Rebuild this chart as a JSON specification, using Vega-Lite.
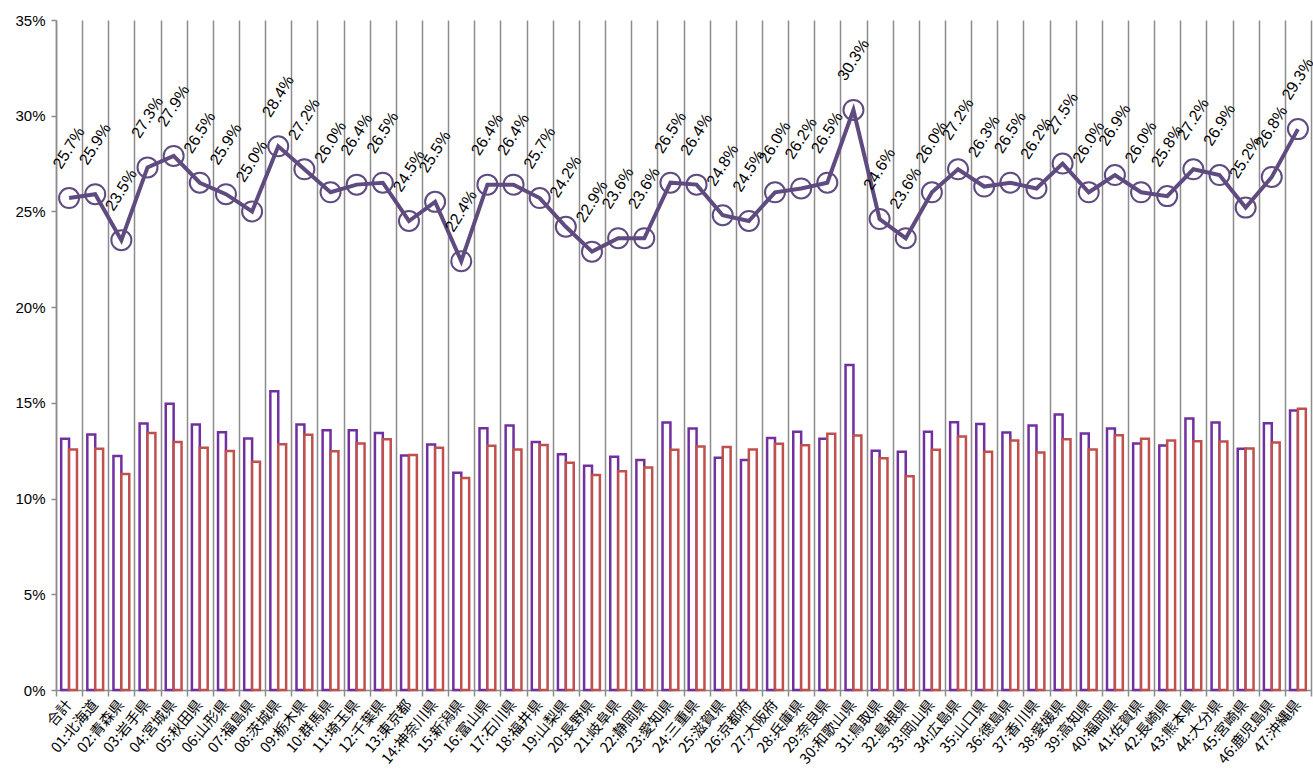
{
  "$schema": "https://vega.github.io/schema/vega-lite/v6.json",
  "autosize": {"type": "none"},
  "width": 1255,
  "height": 670,
  "padding": {"left": 56, "top": 20, "right": 2, "bottom": 88},
  "background": "white",
  "config": {"view": {"stroke": null}},
  "datasets": {
    "bars": [
      {"cat": "合計", "s": "a", "v": 0.1312}, {"cat": "合計", "s": "b", "v": 0.1256},
      {"cat": "01:北海道", "s": "a", "v": 0.1335}, {"cat": "01:北海道", "s": "b", "v": 0.1260},
      {"cat": "02:青森県", "s": "a", "v": 0.1222}, {"cat": "02:青森県", "s": "b", "v": 0.1128},
      {"cat": "03:岩手県", "s": "a", "v": 0.1392}, {"cat": "03:岩手県", "s": "b", "v": 0.1342},
      {"cat": "04:宮城県", "s": "a", "v": 0.1495}, {"cat": "04:宮城県", "s": "b", "v": 0.1295},
      {"cat": "05:秋田県", "s": "a", "v": 0.1387}, {"cat": "05:秋田県", "s": "b", "v": 0.1265},
      {"cat": "06:山形県", "s": "a", "v": 0.1347}, {"cat": "06:山形県", "s": "b", "v": 0.1248},
      {"cat": "07:福島県", "s": "a", "v": 0.1314}, {"cat": "07:福島県", "s": "b", "v": 0.1192},
      {"cat": "08:茨城県", "s": "a", "v": 0.1560}, {"cat": "08:茨城県", "s": "b", "v": 0.1284},
      {"cat": "09:栃木県", "s": "a", "v": 0.1387}, {"cat": "09:栃木県", "s": "b", "v": 0.1333},
      {"cat": "10:群馬県", "s": "a", "v": 0.1357}, {"cat": "10:群馬県", "s": "b", "v": 0.1247},
      {"cat": "11:埼玉県", "s": "a", "v": 0.1357}, {"cat": "11:埼玉県", "s": "b", "v": 0.1288},
      {"cat": "12:千葉県", "s": "a", "v": 0.1342}, {"cat": "12:千葉県", "s": "b", "v": 0.1310},
      {"cat": "13:東京都", "s": "a", "v": 0.1225}, {"cat": "13:東京都", "s": "b", "v": 0.1227},
      {"cat": "14:神奈川県", "s": "a", "v": 0.1283}, {"cat": "14:神奈川県", "s": "b", "v": 0.1265},
      {"cat": "15:新潟県", "s": "a", "v": 0.1135}, {"cat": "15:新潟県", "s": "b", "v": 0.1107},
      {"cat": "16:富山県", "s": "a", "v": 0.1368}, {"cat": "16:富山県", "s": "b", "v": 0.1276},
      {"cat": "17:石川県", "s": "a", "v": 0.1382}, {"cat": "17:石川県", "s": "b", "v": 0.1256},
      {"cat": "18:福井県", "s": "a", "v": 0.1295}, {"cat": "18:福井県", "s": "b", "v": 0.1280},
      {"cat": "19:山梨県", "s": "a", "v": 0.1232}, {"cat": "19:山梨県", "s": "b", "v": 0.1187},
      {"cat": "20:長野県", "s": "a", "v": 0.1171}, {"cat": "20:長野県", "s": "b", "v": 0.1123},
      {"cat": "21:岐阜県", "s": "a", "v": 0.1218}, {"cat": "21:岐阜県", "s": "b", "v": 0.1143},
      {"cat": "22:静岡県", "s": "a", "v": 0.1202}, {"cat": "22:静岡県", "s": "b", "v": 0.1162},
      {"cat": "23:愛知県", "s": "a", "v": 0.1397}, {"cat": "23:愛知県", "s": "b", "v": 0.1255},
      {"cat": "24:三重県", "s": "a", "v": 0.1366}, {"cat": "24:三重県", "s": "b", "v": 0.1272},
      {"cat": "25:滋賀県", "s": "a", "v": 0.1213}, {"cat": "25:滋賀県", "s": "b", "v": 0.1269},
      {"cat": "26:京都府", "s": "a", "v": 0.1201}, {"cat": "26:京都府", "s": "b", "v": 0.1256},
      {"cat": "27:大阪府", "s": "a", "v": 0.1316}, {"cat": "27:大阪府", "s": "b", "v": 0.1286},
      {"cat": "28:兵庫県", "s": "a", "v": 0.1349}, {"cat": "28:兵庫県", "s": "b", "v": 0.1279},
      {"cat": "29:奈良県", "s": "a", "v": 0.1312}, {"cat": "29:奈良県", "s": "b", "v": 0.1338},
      {"cat": "30:和歌山県", "s": "a", "v": 0.1698}, {"cat": "30:和歌山県", "s": "b", "v": 0.1330},
      {"cat": "31:鳥取県", "s": "a", "v": 0.1250}, {"cat": "31:鳥取県", "s": "b", "v": 0.1210},
      {"cat": "32:島根県", "s": "a", "v": 0.1244}, {"cat": "32:島根県", "s": "b", "v": 0.1116},
      {"cat": "33:岡山県", "s": "a", "v": 0.1349}, {"cat": "33:岡山県", "s": "b", "v": 0.1255},
      {"cat": "34:広島県", "s": "a", "v": 0.1399}, {"cat": "34:広島県", "s": "b", "v": 0.1324},
      {"cat": "35:山口県", "s": "a", "v": 0.1390}, {"cat": "35:山口県", "s": "b", "v": 0.1244},
      {"cat": "36:徳島県", "s": "a", "v": 0.1345}, {"cat": "36:徳島県", "s": "b", "v": 0.1303},
      {"cat": "37:香川県", "s": "a", "v": 0.1382}, {"cat": "37:香川県", "s": "b", "v": 0.1241},
      {"cat": "38:愛媛県", "s": "a", "v": 0.1439}, {"cat": "38:愛媛県", "s": "b", "v": 0.1310},
      {"cat": "39:高知県", "s": "a", "v": 0.1340}, {"cat": "39:高知県", "s": "b", "v": 0.1256},
      {"cat": "40:福岡県", "s": "a", "v": 0.1366}, {"cat": "40:福岡県", "s": "b", "v": 0.1331},
      {"cat": "41:佐賀県", "s": "a", "v": 0.1288}, {"cat": "41:佐賀県", "s": "b", "v": 0.1312},
      {"cat": "42:長崎県", "s": "a", "v": 0.1277}, {"cat": "42:長崎県", "s": "b", "v": 0.1303},
      {"cat": "43:熊本県", "s": "a", "v": 0.1418}, {"cat": "43:熊本県", "s": "b", "v": 0.1300},
      {"cat": "44:大分県", "s": "a", "v": 0.1397}, {"cat": "44:大分県", "s": "b", "v": 0.1298},
      {"cat": "45:宮崎県", "s": "a", "v": 0.1260}, {"cat": "45:宮崎県", "s": "b", "v": 0.1262},
      {"cat": "46:鹿児島県", "s": "a", "v": 0.1394}, {"cat": "46:鹿児島県", "s": "b", "v": 0.1293},
      {"cat": "47:沖縄県", "s": "a", "v": 0.1460}, {"cat": "47:沖縄県", "s": "b", "v": 0.1469}
    ],
    "line": [
      {"cat": "合計", "t": 0.257}, {"cat": "01:北海道", "t": 0.259}, {"cat": "02:青森県", "t": 0.235},
      {"cat": "03:岩手県", "t": 0.273}, {"cat": "04:宮城県", "t": 0.279}, {"cat": "05:秋田県", "t": 0.265},
      {"cat": "06:山形県", "t": 0.259}, {"cat": "07:福島県", "t": 0.250}, {"cat": "08:茨城県", "t": 0.284},
      {"cat": "09:栃木県", "t": 0.272}, {"cat": "10:群馬県", "t": 0.260}, {"cat": "11:埼玉県", "t": 0.264},
      {"cat": "12:千葉県", "t": 0.265}, {"cat": "13:東京都", "t": 0.245}, {"cat": "14:神奈川県", "t": 0.255},
      {"cat": "15:新潟県", "t": 0.224}, {"cat": "16:富山県", "t": 0.264}, {"cat": "17:石川県", "t": 0.264},
      {"cat": "18:福井県", "t": 0.257}, {"cat": "19:山梨県", "t": 0.242}, {"cat": "20:長野県", "t": 0.229},
      {"cat": "21:岐阜県", "t": 0.236}, {"cat": "22:静岡県", "t": 0.236}, {"cat": "23:愛知県", "t": 0.265},
      {"cat": "24:三重県", "t": 0.264}, {"cat": "25:滋賀県", "t": 0.248}, {"cat": "26:京都府", "t": 0.245},
      {"cat": "27:大阪府", "t": 0.260}, {"cat": "28:兵庫県", "t": 0.262}, {"cat": "29:奈良県", "t": 0.265},
      {"cat": "30:和歌山県", "t": 0.303}, {"cat": "31:鳥取県", "t": 0.246}, {"cat": "32:島根県", "t": 0.236},
      {"cat": "33:岡山県", "t": 0.260}, {"cat": "34:広島県", "t": 0.272}, {"cat": "35:山口県", "t": 0.263},
      {"cat": "36:徳島県", "t": 0.265}, {"cat": "37:香川県", "t": 0.262}, {"cat": "38:愛媛県", "t": 0.275},
      {"cat": "39:高知県", "t": 0.260}, {"cat": "40:福岡県", "t": 0.269}, {"cat": "41:佐賀県", "t": 0.260},
      {"cat": "42:長崎県", "t": 0.258}, {"cat": "43:熊本県", "t": 0.272}, {"cat": "44:大分県", "t": 0.269},
      {"cat": "45:宮崎県", "t": 0.252}, {"cat": "46:鹿児島県", "t": 0.268}, {"cat": "47:沖縄県", "t": 0.293}
    ]
  },
  "layer": [
    {
      "data": {"name": "bars"},
      "mark": {"type": "bar", "fill": "white", "strokeWidth": 2.5},
      "encoding": {
        "x": {
          "field": "cat", "type": "nominal", "sort": null,
          "scale": {"paddingInner": 0, "paddingOuter": 0},
          "axis": {
            "title": null, "tickBand": "extent", "grid": true,
            "gridColor": "#8c8c8c", "gridWidth": 1.5,
            "domainColor": "#8c8c8c", "domainWidth": 1.5,
            "tickColor": "#8c8c8c", "tickWidth": 1.5, "tickSize": 6,
            "labelAngle": -50, "labelFont": "Noto Sans CJK JP", "labelFontSize": 14.5,
            "labelColor": "black", "labelPadding": 6
          }
        },
        "xOffset": {"field": "s", "type": "nominal", "scale": {"paddingInner": 0, "paddingOuter": 0.655}},
        "y": {
          "field": "v", "type": "quantitative",
          "scale": {"domain": [0, 0.35], "nice": false},
          "axis": {
            "title": null, "format": ".0%", "values": [0, 0.05, 0.1, 0.15, 0.2, 0.25, 0.3, 0.35],
            "grid": false, "domainColor": "#8c8c8c", "domainWidth": 1.5,
            "tickColor": "#8c8c8c", "tickWidth": 1.5, "tickSize": 5,
            "labelFont": "Liberation Sans", "labelFontSize": 15, "labelColor": "black", "labelPadding": 6
          }
        },
        "stroke": {"field": "s", "type": "nominal", "scale": {"domain": ["a", "b"], "range": ["#7030a0", "#c0504d"]}, "legend": null}
      }
    },
    {
      "data": {"name": "line"},
      "mark": {"type": "line", "color": "#5f4b80", "strokeWidth": 4},
      "encoding": {
        "x": {"field": "cat", "type": "nominal", "sort": null},
        "y": {"field": "t", "type": "quantitative"}
      }
    },
    {
      "data": {"name": "line"},
      "mark": {"type": "point", "shape": "circle", "size": 400, "filled": false, "stroke": "#5f4b80", "strokeWidth": 2, "opacity": 1},
      "encoding": {
        "x": {"field": "cat", "type": "nominal", "sort": null},
        "y": {"field": "t", "type": "quantitative"}
      }
    },
    {
      "data": {"name": "line"},
      "mark": {"type": "text", "angle": -58, "align": "center", "baseline": "middle", "yOffset": -50, "font": "Liberation Sans", "fontSize": 16, "color": "black"},
      "encoding": {
        "x": {"field": "cat", "type": "nominal", "sort": null},
        "y": {"field": "t", "type": "quantitative"},
        "text": {"field": "t", "type": "quantitative", "format": ".1%"}
      }
    }
  ]
}
